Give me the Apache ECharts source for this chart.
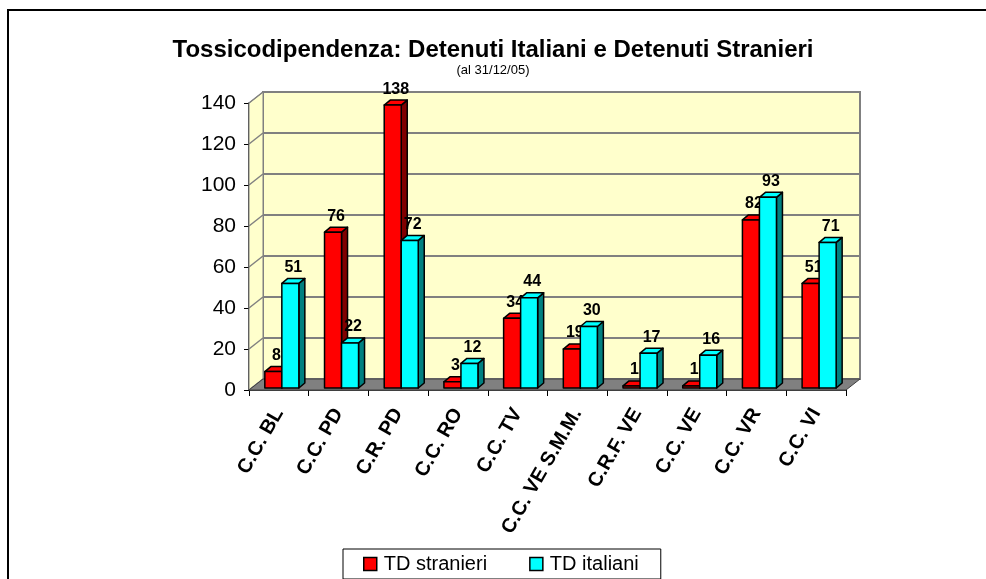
<!DOCTYPE html>
<html>
<head>
<meta charset="utf-8">
<title>Tossicodipendenza</title>
<script src="https://cdn.jsdelivr.net/npm/echarts@6/dist/echarts.min.js"></script>
<style>
  html, body { margin: 0; padding: 0; background: #fff; }
  #main { width: 986px; height: 579px; }
</style>
</head>
<body>
<div id="main"></div>
<script>
  // dati
  var categorie = ['C.C. BL', 'C.C. PD', 'C.R. PD', 'C.C. RO', 'C.C. TV', 'C.C. VE S.M.M.', 'C.R.F. VE', 'C.C. VE', 'C.C. VR', 'C.C. VI'];
  var tdStranieri = [8, 76, 138, 3, 34, 19, 1, 1, 82, 51];
  var tdItaliani = [51, 22, 72, 12, 44, 30, 17, 16, 93, 71];
  var yTicks = [0, 20, 40, 60, 80, 100, 120, 140];

  var FONT = 'Liberation Sans, Arial, sans-serif';
  // profondita' del "3D" (pareti e barre)
  var WALL_DX = 14, WALL_DY = 11;
  var BAR_DX = 6, BAR_DY = 5;

  var chart = echarts.init(document.getElementById('main'));

  function renderWalls(params, api) {
    var cs = params.coordSys;
    var x0 = cs.x, x1 = cs.x + cs.width;
    var yTop = api.coord([0, yTicks[yTicks.length - 1]])[1];
    var yBot = api.coord([0, 0])[1];
    var children = [];
    // parete di fondo
    children.push({
      type: 'rect',
      shape: { x: x0 + WALL_DX, y: yTop - WALL_DY, width: x1 - x0, height: yBot - yTop },
      style: { fill: '#FFFFCC', stroke: '#808080', lineWidth: 2 }
    });
    // parete sinistra
    children.push({
      type: 'polygon',
      shape: { points: [[x0, yTop], [x0 + WALL_DX, yTop - WALL_DY], [x0 + WALL_DX, yBot - WALL_DY], [x0, yBot]] },
      style: { fill: '#FFFFCC', stroke: '#808080', lineWidth: 1 }
    });
    yTicks.forEach(function (v) {
      var y = api.coord([0, v])[1];
      if (v > 0 && v < yTicks[yTicks.length - 1]) {
        children.push({
          type: 'line',
          shape: { x1: x0 + WALL_DX, y1: y - WALL_DY, x2: x1 + WALL_DX, y2: y - WALL_DY },
          style: { stroke: '#808080', lineWidth: 2 }
        });
      }
      children.push({
        type: 'line',
        shape: { x1: x0, y1: y, x2: x0 + WALL_DX, y2: y - WALL_DY },
        style: { stroke: '#808080', lineWidth: 1.5 }
      });
    });
    // pavimento
    children.push({
      type: 'polygon',
      shape: { points: [[x0, yBot], [x1, yBot], [x1 + WALL_DX, yBot - WALL_DY], [x0 + WALL_DX, yBot - WALL_DY]] },
      style: { fill: '#808080', stroke: '#404040', lineWidth: 1 }
    });
    return { type: 'group', children: children };
  }

  function makeBarRenderer(color, dark, offset) {
    return function (params, api) {
      var idx = api.value(0), val = api.value(1);
      var top = api.coord([idx, val]);
      var base = api.coord([idx, 0]);
      var band = api.size([1, 0])[0];
      var w = band * 0.285;
      var x = top[0] + band * offset;
      var yT = top[1] - 2, yB = base[1] - 2;
      var edge = { stroke: '#000', lineWidth: 1.5, lineJoin: 'round' };
      return {
        type: 'group',
        children: [
          {
            type: 'polygon',
            shape: { points: [[x + w, yB], [x + w + BAR_DX, yB - BAR_DY], [x + w + BAR_DX, yT - BAR_DY], [x + w, yT]] },
            style: Object.assign({ fill: dark }, edge)
          },
          {
            type: 'polygon',
            shape: { points: [[x, yT], [x + BAR_DX, yT - BAR_DY], [x + w + BAR_DX, yT - BAR_DY], [x + w, yT]] },
            style: Object.assign({ fill: color }, edge)
          },
          {
            type: 'rect',
            shape: { x: x, y: yT, width: w, height: yB - yT },
            style: Object.assign({ fill: color }, edge)
          },
          {
            type: 'text',
            x: x + w / 2 + BAR_DX / 2,
            y: yT - BAR_DY - 3,
            style: {
              text: String(val), fill: '#000', font: 'bold 16px ' + FONT,
              align: 'center', verticalAlign: 'bottom'
            }
          }
        ]
      };
    };
  }

  function toData(arr) {
    return arr.map(function (v, i) { return [i, v]; });
  }

  var option = {
    backgroundColor: '#fff',
    animation: false,
    title: {
      text: 'Tossicodipendenza: Detenuti Italiani e Detenuti Stranieri',
      subtext: '(al 31/12/05)',
      left: 'center',
      top: 33,
      itemGap: 2,
      textStyle: { fontFamily: FONT, fontSize: 24, fontWeight: 'bold', color: '#000' },
      subtextStyle: { fontFamily: FONT, fontSize: 13, color: '#000' }
    },
    legend: {
      left: 343,
      top: 549,
      icon: 'rect',
      itemWidth: 13,
      itemHeight: 13,
      itemGap: 42,
      padding: [5, 22, 5, 20],
      borderColor: '#000',
      borderWidth: 1,
      backgroundColor: '#fff',
      textStyle: { fontFamily: FONT, fontSize: 20, color: '#000', padding: [0, 0, 0, 2] },
      data: [
        { name: 'TD stranieri', itemStyle: { color: '#FF0000', borderColor: '#000', borderWidth: 1.5 } },
        { name: 'TD italiani', itemStyle: { color: '#00FFFF', borderColor: '#000', borderWidth: 1.5 } }
      ]
    },
    graphic: [{
      type: 'polyline',
      shape: { points: [[8, 600], [8, 10], [990, 10]] },
      style: { stroke: '#000', lineWidth: 2, fill: null }
    }],
    grid: { left: 249, right: 140, top: 103, bottom: 189 },
    xAxis: {
      type: 'category',
      data: categorie,
      boundaryGap: true,
      axisLine: { show: true, lineStyle: { color: '#000', width: 1.5 } },
      axisTick: { show: true, length: 6, interval: 0, lineStyle: { color: '#000' } },
      axisLabel: {
        interval: 0, rotate: 60, margin: 20,
        fontFamily: FONT, fontSize: 20, fontWeight: 'bold', color: '#000'
      },
      splitLine: { show: false }
    },
    yAxis: {
      type: 'value',
      min: 0, max: 140, interval: 20,
      axisLine: { show: true, lineStyle: { color: '#000', width: 1.5 } },
      axisTick: { show: true, length: 5, lineStyle: { color: '#000' } },
      axisLabel: { margin: 13, fontFamily: FONT, fontSize: 21, color: '#000' },
      splitLine: { show: false }
    },
    series: [
      {
        name: 'pareti',
        type: 'custom',
        silent: true,
        z: 1,
        renderItem: renderWalls,
        data: [[0, 0]]
      },
      {
        name: 'TD stranieri',
        type: 'custom',
        z: 2,
        itemStyle: { color: '#FF0000' },
        renderItem: makeBarRenderer('#FF0000', '#800000', -0.235),
        data: toData(tdStranieri)
      },
      {
        name: 'TD italiani',
        type: 'custom',
        z: 3,
        itemStyle: { color: '#00FFFF' },
        renderItem: makeBarRenderer('#00FFFF', '#008080', 0.05),
        data: toData(tdItaliani)
      }
    ]
  };

  chart.setOption(option);
</script>
</body>
</html>
